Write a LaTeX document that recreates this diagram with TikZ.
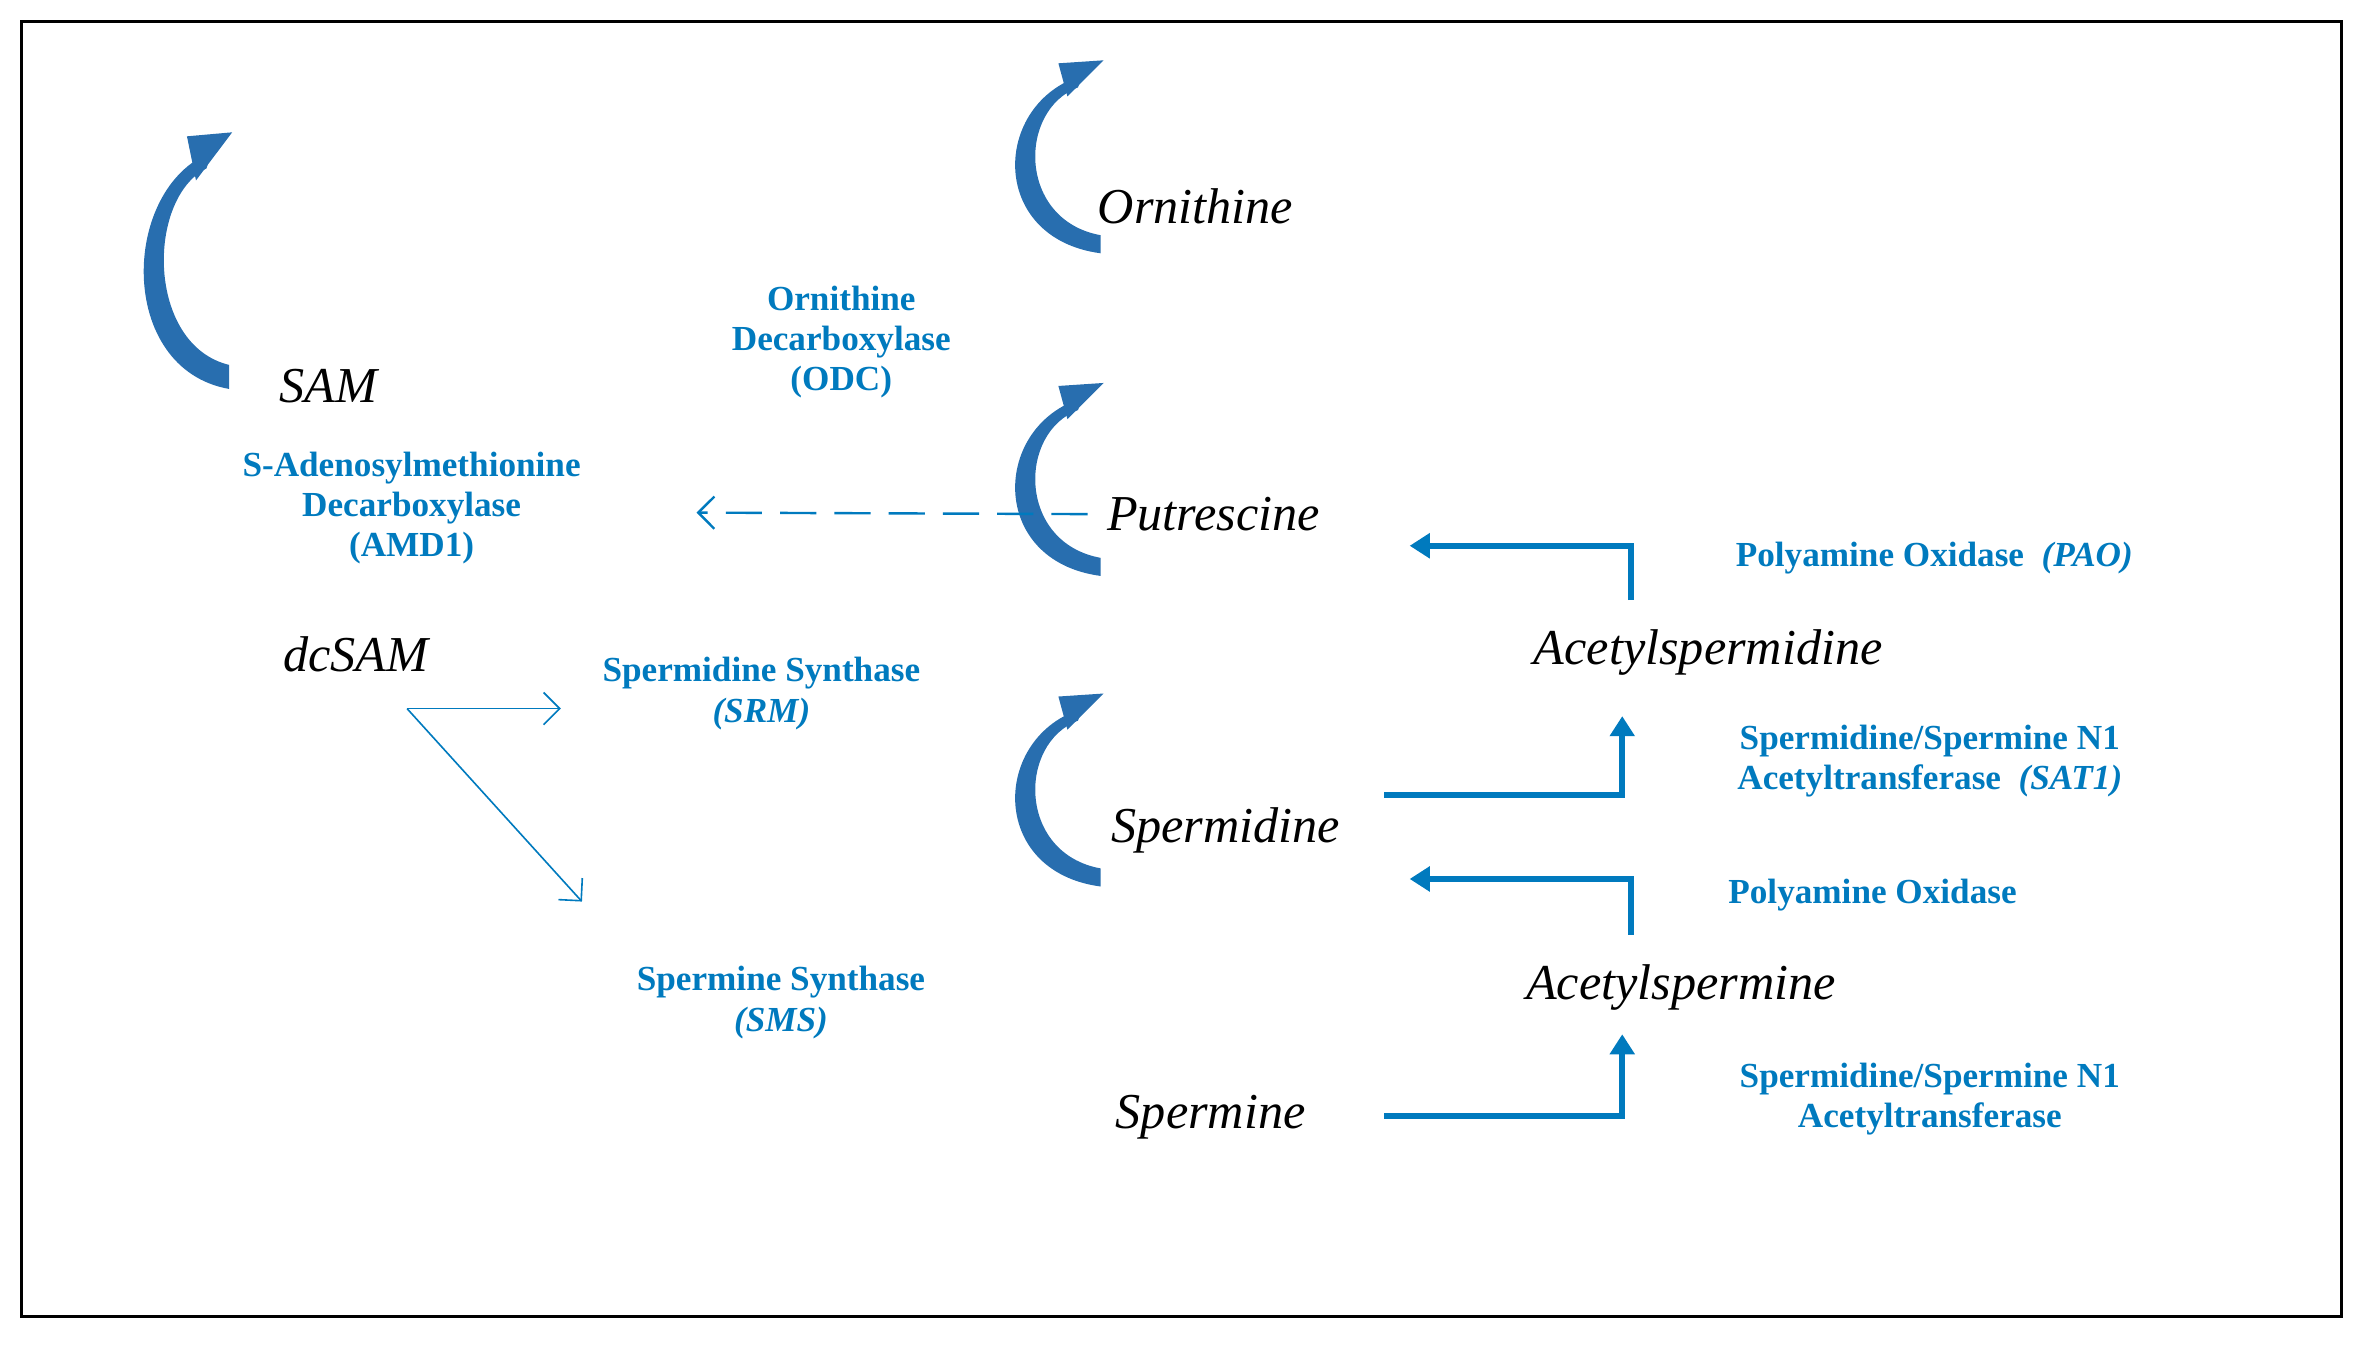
\documentclass[tikz,border=0pt]{standalone}
\usepackage{fontspec}
\setmainfont{Liberation Serif}
\usetikzlibrary{arrows.meta}
\definecolor{enzblue}{RGB}{0,122,190}
\definecolor{bendblue}{RGB}{40,110,175}
\tikzset{every picture/.style={line width=0.75pt}}
\tikzset{
  mol/.style={font=\fontsize{25}{30}\selectfont\itshape, text=black},
  enz/.style={font=\fontsize{17.5}{20}\selectfont\bfseries, text=enzblue, align=center},
  pathstep/.style={draw=enzblue, line width=3pt, -{Triangle[length=10pt,width=12pt]}},
  thin pathstep/.style={draw=enzblue, line width=0.8pt, -{Straight Barb[length=8pt]}},
  bend/.pic={
    \fill[bendblue] (0,0) .. controls (-75,10) and (-72,100) .. (-12,118)
      -- (-15,110) .. controls (-55,95) and (-55,22) .. (0,12) -- cycle;
    \fill[bendblue] (2,128) -- (-22,104) -- (-28,126) -- cycle;
  }
}

\begin{document}
\begin{tikzpicture}[x=0.75pt,y=0.75pt,yscale=-1,xscale=1]
\useasboundingbox (0,0) rectangle (1568,892);
%frame
\draw[line width=1.5pt] (14,14) rectangle (1553,873);

% molecules
\node[mol] (orn) at (793,137) {Ornithine};
\node[mol] (put) at (805,341) {Putrescine};
\node[mol] (spd) at (813,551) {Spermidine};
\node[mol] (spm) at (803,741) {Spermine};
\node[mol] (sam) at (218,256) {SAM};
\node[mol] (dcsam) at (236,434) {dcSAM};
\node[mol] (aspd) at (1133,433) {Acetylspermidine};
\node[mol] (aspm) at (1115,655) {Acetylspermine};

% enzymes
\node[enz] (odc) at (558,227) {Ornithine\\Decarboxylase\\(ODC)};
\node[enz] (amd) at (273,337) {S-Adenosylmethionine\\Decarboxylase\\(AMD1)};
\node[enz] (srm) at (505,460) {Spermidine Synthase\\\textit{(SRM)}};
\node[enz] (sms) at (518,665) {Spermine Synthase\\\textit{(SMS)}};
\node[enz] (pao) at (1283,370) {Polyamine Oxidase \ \textit{(PAO)}};
\node[enz] (sat) at (1280,505) {Spermidine/Spermine N1\\Acetyltransferase \ \textit{(SAT1)}};
\node[enz] (pao2) at (1242,594) {Polyamine Oxidase};
\node[enz] (sat2) at (1280,729) {Spermidine/Spermine N1\\Acetyltransferase};

% curved steps
\pic at (730,168) {bend};
\pic at (730,382) {bend};
\pic at (730,588) {bend};
\pic[yscale=1.33] at (152,258) {bend};

% free ends
\coordinate (dash end) at (462,340);
\coordinate (dc) at (270,470);
\coordinate (srm in) at (372,470);
\coordinate (sms in) at (386,598);
\coordinate (spd out) at (918,527);
\coordinate (spm out) at (918,740);
\coordinate (sat up) at (1076,475);
\coordinate (sat2 up) at (1076,686);
\coordinate (pao from) at (1082,398);
\coordinate (pao to) at (935,362);
\coordinate (pao2 from) at (1082,620);
\coordinate (pao2 to) at (935,583);

% connectors
\draw[thin pathstep, line width=1.2pt, dash pattern=on 18pt off 9pt] (put.west) ++(-8,0) -- (dash end);
\draw[thin pathstep] (dc) -- (srm in);
\draw[thin pathstep] (dc) -- (sms in);
\draw[pathstep] (spd out) -| (sat up);
\draw[pathstep] (spm out) -| (sat2 up);
\draw[pathstep] (pao from) |- (pao to);
\draw[pathstep] (pao2 from) |- (pao2 to);

\end{tikzpicture}
\end{document}
